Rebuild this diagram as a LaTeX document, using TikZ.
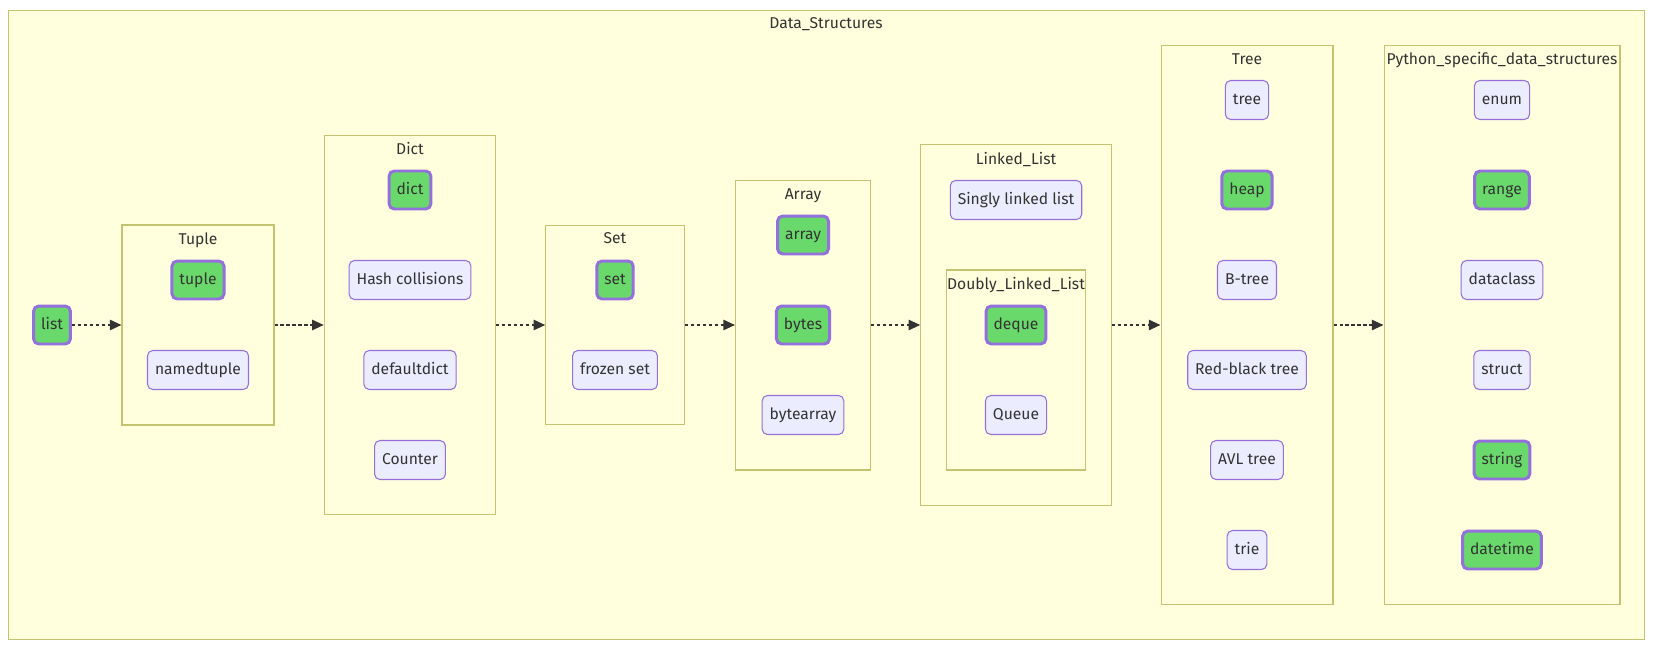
\documentclass[tikz,border=0pt]{standalone}
\usepackage{fontspec}
\setmainfont{Fira Sans}
\usetikzlibrary{arrows.meta}
\definecolor{dsbg}{HTML}{FFFFDE}
\definecolor{dsedge}{HTML}{AAAA33}
\definecolor{dsnode}{HTML}{ECECFF}
\definecolor{dsline}{HTML}{9370DB}
\definecolor{dsgreen}{HTML}{6AD96B}
\definecolor{dsink}{HTML}{333333}
\begin{document}
\begin{tikzpicture}[x=0.02cm,y=-0.02cm,
    cluster/.style={draw=dsedge!70,fill=dsbg,line width=0.6pt,inner sep=0pt},
    title/.style={font=\fontsize{8.9}{10}\selectfont,text=dsink,inner sep=0pt,text height=6.4pt,text depth=1.8pt},
    item/.style={draw=dsline,fill=dsnode,rounded corners=3pt,line width=0.6pt,minimum height=0.78cm,inner xsep=0.15cm,inner ysep=0pt,text height=6.4pt,text depth=1.8pt,font=\fontsize{8.9}{10}\selectfont,text=dsink},
    core/.style={item,fill=dsgreen,line width=1.7pt,minimum height=0.76cm},
    flow/.style={draw=dsink,line width=1.1pt,dash pattern=on 1.8pt off 1.6pt,-{Triangle[length=6.6pt,width=5.8pt]}}]
      \useasboundingbox (0,0) rectangle (1653,649);
      \node[cluster,minimum width=32.74cm,minimum height=12.6cm] (dataC) at (826.5,325) {};
      \node[title] (dataT) at (826,24) {Data\_Structures};
      \node[cluster,minimum width=3.04cm,minimum height=4cm] (tupleC) at (198,325) {};
      \node[title] (tupleT) at (198,240) {Tuple};
      \node[cluster,minimum width=3.43cm,minimum height=7.6cm] (dictC) at (410,325) {};
      \node[title] (dictT) at (410,150) {Dict};
      \node[cluster,minimum width=2.77cm,minimum height=3.98cm] (setC) at (615,325) {};
      \node[title] (setT) at (615,239) {Set};
      \node[cluster,minimum width=2.7cm,minimum height=5.8cm] (arrayC) at (803,325) {};
      \node[title] (arrayT) at (803,195) {Array};
      \node[cluster,minimum width=3.81cm,minimum height=7.22cm] (linkedC) at (1016,325) {};
      \node[title] (linkedT) at (1016,160) {Linked\_List};
      \node[cluster,minimum width=2.79cm,minimum height=4cm] (doublyC) at (1016,370) {};
      \node[title] (doublyT) at (1016,285) {Doubly\_Linked\_List};
      \node[cluster,minimum width=3.44cm,minimum height=11.18cm] (treeC) at (1247,325) {};
      \node[title] (treeT) at (1247,60) {Tree};
      \node[cluster,minimum width=4.72cm,minimum height=11.18cm] (pythonC) at (1502,325) {};
      \node[title] (pythonT) at (1502,60) {Python\_specific\_data\_structures};

      \node[core] (list) at (52,325) {list};
      \node[core] (tuple) at (198,280) {tuple};
      \node[item] (namedtuple) at (198,370) {namedtuple};
      \node[core] (dict) at (410,190) {dict};
      \node[item] (hash) at (410,280) {Hash collisions};
      \node[item] (defaultdict) at (410,370) {defaultdict};
      \node[item] (counter) at (410,460) {Counter};
      \node[core] (set) at (615,280) {set};
      \node[item] (frozenset) at (615,370) {frozen set};
      \node[core] (array) at (803,235) {array};
      \node[core] (bytes) at (803,325) {bytes};
      \node[item] (bytearray) at (803,415) {bytearray};
      \node[item] (singly) at (1016,200) {Singly linked list};
      \node[core] (deque) at (1016,325) {deque};
      \node[item] (queue) at (1016,415) {Queue};
      \node[item] (tree) at (1247,100) {tree};
      \node[core] (heap) at (1247,190) {heap};
      \node[item] (btree) at (1247,280) {B-tree};
      \node[item] (redblack) at (1247,370) {Red-black tree};
      \node[item] (avl) at (1247,460) {AVL tree};
      \node[item] (trie) at (1247,550) {trie};
      \node[item] (enum) at (1502,100) {enum};
      \node[core] (range) at (1502,190) {range};
      \node[item] (dataclass) at (1502,280) {dataclass};
      \node[item] (struct) at (1502,370) {struct};
      \node[core] (string) at (1502,460) {string};
      \node[core] (datetime) at (1502,550) {datetime};

      \draw[flow] (list) -- (tupleC);
      \draw[flow] (tupleC) -- (dictC);
      \draw[flow] (dictC) -- (setC);
      \draw[flow] (setC) -- (arrayC);
      \draw[flow] (arrayC) -- (linkedC);
      \draw[flow] (linkedC) -- (treeC);
      \draw[flow] (treeC) -- (pythonC);
    \end{tikzpicture}
\end{document}
